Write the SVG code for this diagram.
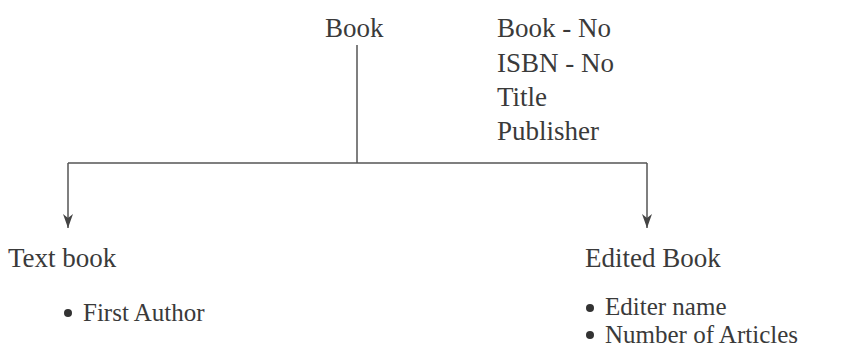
<svg xmlns="http://www.w3.org/2000/svg" width="855" height="350" viewBox="0 0 855 350">
<style>
text{font-family:"Liberation Serif","Times New Roman",serif;font-size:27px;fill:#3a3a3a}
.sm{font-size:25px}
.ln{stroke:#555;stroke-width:1.5;fill:none}
</style>
<defs>
<marker id="ah" viewBox="0 0 14 10" refX="14" refY="5" markerWidth="14" markerHeight="10" markerUnits="userSpaceOnUse" orient="auto">
<path d="M0,0 L14,5 L0,10 L4,5 Z" fill="#444"/>
</marker>
</defs>
<rect width="855" height="350" fill="#fff"/>
<g id="connectors">
<path class="ln" d="M357,45 V163"/>
<path class="ln" d="M68,163 H647"/>
<path class="ln" d="M68,163 V228" marker-end="url(#ah)"/>
<path class="ln" d="M647,163 V228" marker-end="url(#ah)"/>
</g>
<g id="book">
<text x="325" y="37">Book</text>
</g>
<g id="book-attrs">
<text x="497" y="37">Book - No</text>
<text x="497" y="72">ISBN - No</text>
<text x="497" y="106">Title</text>
<text x="497" y="140">Publisher</text>
</g>
<g id="textbook">
<text x="8" y="267">Text book</text>
<circle cx="68" cy="313" r="4" fill="#333"/>
<text class="sm" x="83" y="321">First Author</text>
</g>
<g id="editedbook">
<text x="585" y="267">Edited Book</text>
<circle cx="590" cy="308" r="4" fill="#333"/>
<text class="sm" x="605" y="315">Editer name</text>
<circle cx="590" cy="335" r="4" fill="#333"/>
<text class="sm" x="605" y="343">Number of Articles</text>
</g>
</svg>
